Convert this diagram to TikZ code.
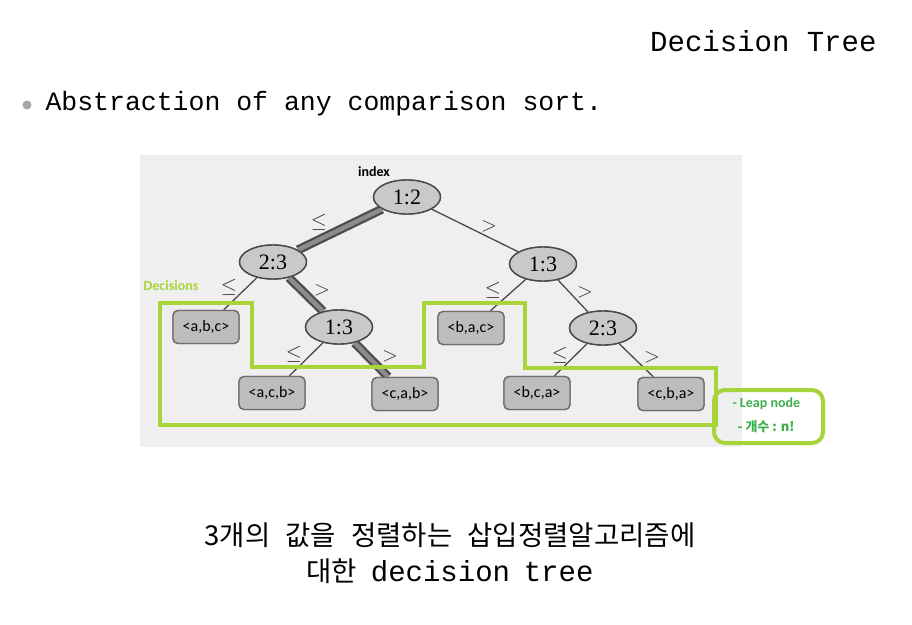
\documentclass[tikz,border=0pt]{standalone}
\usepackage{fontspec}
\setmainfont{Liberation Serif}
\newfontfamily\cjkf{Noto Sans CJK KR}
\newfontfamily\monof{Liberation Mono}
\newfontfamily\sansf{Carlito}
\usetikzlibrary{shapes.geometric}
\definecolor{panel}{HTML}{EFEFEF}
\definecolor{ellfill}{HTML}{C9C9C9}
\definecolor{leaffill}{HTML}{BDBDBD}
\definecolor{edgedark}{HTML}{4A4A4A}
\definecolor{limeg}{HTML}{A6D43A}
\definecolor{txtgreen}{HTML}{3DB04C}
\tikzset{
  cmp/.style={ellipse, fill=ellfill, draw=edgedark, line width=1.4pt, minimum width=67pt, minimum height=34pt, inner sep=0pt, font=\fontsize{22}{24}\selectfont},
  leaf/.style={rectangle, rounded corners=5pt, fill=leaffill, draw=edgedark!80, line width=1.4pt, minimum width=66pt, minimum height=33pt, inner sep=0pt, font=\sansf\fontsize{16}{18}\selectfont},
  thin/.style={draw=edgedark, line width=1.3pt},
  thickA/.style={draw=black!70, line width=9pt},
  thickB/.style={draw=black!45, line width=4.5pt},
  lbl/.style={font=\fontsize{21}{22}\selectfont, text=black!80},
  greenline/.style={draw=limeg, line width=4.5pt, line join=miter},
  smalltxt/.style={font=\sansf\bfseries\fontsize{14}{16}\selectfont}
}
\begin{document}
\begin{tikzpicture}[x=1pt,y=-1pt]
\useasboundingbox (0,0) rectangle (912,624);
\fill[white] (0,0) rectangle (912,624);
% panel
\fill[panel] (140,155) rectangle (742,447);

% headings
\node[anchor=east, font=\monof\fontsize{29}{32}\selectfont] (title) at (880,41) {Decision Tree};
\fill[gray!70] (27,105) circle (4.5pt);
\node[anchor=west, font=\monof\fontsize{26.5}{30}\selectfont] (abs) at (42,104) {Abstraction of any comparison sort.};

% tree nodes
\node[cmp] (n12) at (407,197) {1:2};
\node[cmp] (n23) at (273,262) {2:3};
\node[cmp] (n13r) at (543,264) {1:3};
\node[cmp] (n13m) at (339,327) {1:3};
\node[cmp] (n23r) at (603,328) {2:3};

\node[leaf] (abc) at (206,327) {<a,b,c>};
\node[leaf] (bac) at (471,328) {<b,a,c>};
\node[leaf] (acb) at (272,393) {<a,c,b>};
\node[leaf] (cab) at (405,394) {<c,a,b>};
\node[leaf] (bca) at (537,393) {<b,c,a>};
\node[leaf] (cba) at (671,394) {<c,b,a>};

% edges
\draw[thickA] (n12) -- (n23);
\draw[thickB] (n12) -- (n23);
\draw[thickA] (n23) -- (n13m);
\draw[thickB] (n23) -- (n13m);
\draw[thickA] (n13m) -- (cab);
\draw[thickB] (n13m) -- (cab);
\draw[thin] (n12) -- (n13r);
\draw[thin] (n23) -- (abc);
\draw[thin] (n13m) -- (acb);
\draw[thin] (n13r) -- (bac);
\draw[thin] (n13r) -- (n23r);
\draw[thin] (n23r) -- (bca);
\draw[thin] (n23r) -- (cba);

% redraw nodes on top of the edges
\node[cmp] at (n12) {1:2};
\node[cmp] at (n23) {2:3};
\node[cmp] at (n13r) {1:3};
\node[cmp] at (n13m) {1:3};
\node[cmp] at (n23r) {2:3};
\node[leaf] at (abc) {<a,b,c>};
\node[leaf] at (bac) {<b,a,c>};
\node[leaf] at (acb) {<a,c,b>};
\node[leaf] at (cab) {<c,a,b>};
\node[leaf] at (bca) {<b,c,a>};
\node[leaf] at (cba) {<c,b,a>};

% edge labels
\node[lbl] (l1) at (319,222) {$\leq$};
\node[lbl] (l2) at (489,226) {$>$};
\node[lbl] (l3) at (229,287) {$\leq$};
\node[lbl] (l4) at (322,290) {$>$};
\node[lbl] (l5) at (294,354) {$\leq$};
\node[lbl] (l6) at (390,356) {$>$};
\node[lbl] (l7) at (493,290) {$\leq$};
\node[lbl] (l8) at (585,292) {$>$};
\node[lbl] (l9) at (560,355) {$\leq$};
\node[lbl] (l10) at (652,357) {$>$};

\node[smalltxt] (idx) at (374,172) {index};
\node[smalltxt, text=limeg] (dec) at (171,286) {Decisions};

% green outline
\draw[greenline] (160,303) -- (252,303) -- (252,367) -- (424,367) -- (424,303) -- (525,303) -- (525,368) -- (716,368) -- (716,425) -- (160,425) -- cycle;
\draw[draw=limeg, line width=4pt, rounded corners=11pt] (714,390) rectangle (823,443);
\node[anchor=west, text=txtgreen, smalltxt] (leap) at (729,404) {- Leap node};
\node[anchor=west, text=txtgreen, font=\cjkf\bfseries\fontsize{13}{15}\selectfont] (cnt) at (734,427) {- 개수 : n!};

% bottom caption
\node[font=\cjkf\fontsize{27.5}{30}\selectfont] (cap1) at (450,535) {\spaceskip=0.55em 3개의 값을 정렬하는 삽입정렬알고리즘에};
\node[font=\cjkf\fontsize{27.5}{30}\selectfont] (cap2) at (450,571) {\spaceskip=0.5em 대한 {\monof\fontsize{29}{30}\selectfont decision tree}};
\end{tikzpicture}
\end{document}
